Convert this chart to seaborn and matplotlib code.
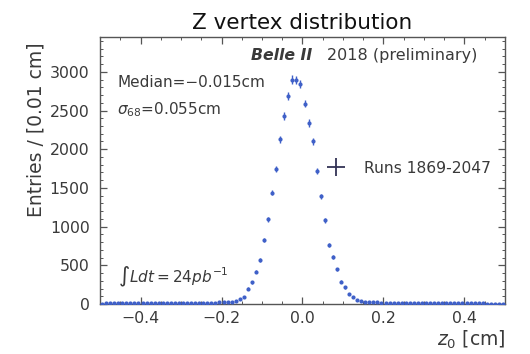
import numpy as np
import pandas as pd
import matplotlib
matplotlib.use("Agg")
import matplotlib.pyplot as plt
from matplotlib.lines import Line2D
from matplotlib.ticker import MultipleLocator
import seaborn as sns

# ---- data (bin width 0.01 cm, centres from -0.495 to 0.495) ----
bin_centers = [round(-0.495 + 0.01 * i, 3) for i in range(100)]
entries = [
    6, 7, 7, 8, 7, 8, 8, 9, 8, 9,
    9, 10, 9, 10, 11, 10, 11, 12, 11, 12,
    12, 13, 13, 14, 14, 15, 16, 17, 18, 20,
    22, 25, 30, 40, 62,
    94, 200, 280, 420, 570, 830, 1095, 1440, 1745, 2130,
    2430, 2690, 2900, 2895, 2845,
    2590, 2340, 2100, 1720, 1390, 1080, 765, 605, 450, 290,
    215, 130, 88, 55, 40, 32, 26, 22, 20, 18,
    17, 16, 15, 15, 14, 13, 13, 12, 12, 11,
    11, 10, 10, 10, 9, 9, 9, 8, 8, 8,
    8, 7, 7, 7, 7, 6, 6, 6, 6, 5,
]
x_ticks = [-0.4, -0.2, 0.0, 0.2, 0.4]
y_ticks = [0, 500, 1000, 1500, 2000, 2500, 3000]
legend_label = "Runs 1869-2047"

df = pd.DataFrame({"z0": bin_centers, "n": entries})
df["err"] = np.sqrt(df["n"])

sns.set_style("ticks")
plt.rcParams["font.family"] = ["DejaVu Sans"]
txt_color = "#3a3a3a"
blue = "#3f60c8"

fig = plt.figure(figsize=(5.30, 3.54), dpi=100)
ax = fig.add_axes([0.1887, 0.1412, 0.7641, 0.7543])

ax.errorbar(df["z0"], df["n"], yerr=df["err"], fmt="none", ecolor=blue,
            elinewidth=1.0, capsize=0, zorder=2)
sns.scatterplot(data=df, x="z0", y="n", ax=ax, color=blue, s=9,
                linewidth=0, zorder=3, legend=False)

ax.set_xlim(-0.5, 0.5)
ax.set_ylim(0, 3450)
ax.set_xticks(x_ticks)
ax.set_xticklabels([f"{t:.1f}".replace("-", "\u2212") for t in x_ticks])
ax.set_yticks(y_ticks)
ax.xaxis.set_minor_locator(MultipleLocator(0.05))
ax.yaxis.set_minor_locator(MultipleLocator(100))
ax.tick_params(which="both", direction="in", top=True, right=True,
               colors="#555555", labelcolor=txt_color, labelsize=11.3)
ax.tick_params(which="major", length=5, width=0.9)
ax.tick_params(which="minor", length=2.5, width=0.7)
ax.tick_params(axis="y", which="major", pad=7.5)
ax.tick_params(axis="x", which="major", pad=5)
for s in ax.spines.values():
    s.set_color("#555555")
    s.set_linewidth(1.0)

ax.set_xlabel(r"$z_0$ [cm]", loc="right", fontsize=13.5, color=txt_color,
              labelpad=2)
ax.set_ylabel("Entries / [0.01 cm]", fontsize=13.5, color=txt_color,
              ha="right")
ax.yaxis.set_label_coords(-0.135, 0.98)
ax.set_title("Z vertex distribution", fontsize=15.5, color="#111111", pad=6)

ax.text(0.523, 0.929, "Belle II", transform=ax.transAxes, ha="right", va="center",
        fontsize=11.3, fontweight="bold", fontstyle="italic", color=txt_color)
ax.text(0.560, 0.929, "2018 (preliminary)", transform=ax.transAxes, ha="left",
        va="center", fontsize=11.5, color=txt_color)
ax.text(0.042, 0.828, "Median=\u22120.015cm", transform=ax.transAxes, ha="left",
        va="center", fontsize=11, color=txt_color)
ax.text(0.042, 0.727, r"$\sigma_{68}$=0.055cm", transform=ax.transAxes, ha="left",
        va="center", fontsize=11, color=txt_color)
ax.text(0.044, 0.10, r"$\int Ldt = 24pb^{-1}$", transform=ax.transAxes, ha="left",
        va="center", fontsize=11, color=txt_color)

handle = Line2D([], [], color="#333355", marker="+", markersize=13,
                markeredgewidth=1.3, linestyle="none")
ax.legend([handle], [legend_label], loc="center left",
          bbox_to_anchor=(0.558, 0.509), frameon=False, fontsize=11.2,
          handlelength=1.35, handletextpad=1.1, borderpad=0, borderaxespad=0,
          labelcolor=txt_color)

fig.savefig("out.png", dpi=100)
